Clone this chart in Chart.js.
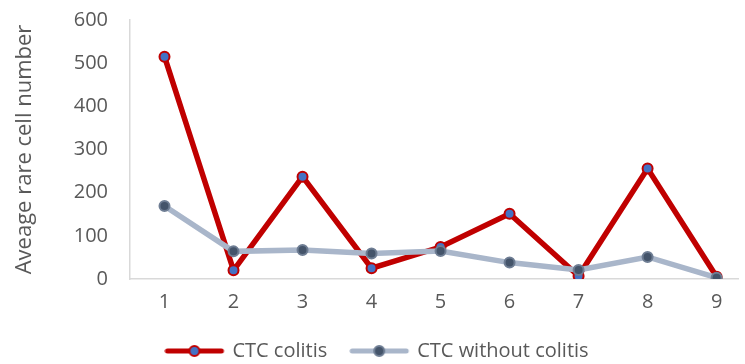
<!DOCTYPE html>
<html>
<head>
<meta charset="utf-8">
<script src="https://cdn.jsdelivr.net/npm/chart.js@4/dist/chart.umd.min.js"></script>
<style>
  html, body { margin: 0; padding: 0; background: #ffffff; overflow: hidden; }
  #wrap { width: 745px; height: 364px; }
</style>
</head>
<body>
<div id="wrap"><canvas id="chart" width="745" height="364"></canvas></div>
<script>
// Sample numbers along the x axis
const categories = [1, 2, 3, 4, 5, 6, 7, 8, 9];

// Average rare cell counts per sample
const colitisValues = [515, 20, 237, 25, 74, 151, 7, 256, 5];
const noColitisValues = [169, 64, 67, 59, 65, 38, 21, 51, 3];

// Y-axis ticks
const yTicks = [0, 100, 200, 300, 400, 500, 600];

const seriesNames = ['CTC colitis', 'CTC without colitis'];
const axisTitle = 'Aveage rare cell number';

const FONT = '"Open Sans", sans-serif';
const TEXT = '#595959';
const AXIS = '#D9D9D9';

const RED = '#C00000';
const BLUE = '#4472C4';
const GREY_LINE = '#A9B6CA';
const GREY_DOT = '#44546A';
const GREY_DOT_EDGE = '#6E7D93';

// Legend swatch: a short line with its marker in the middle
// (drawn slightly wider than its legend box so the label sits close to it)
function legendSwatch(lineColor, fill, edge) {
  const c = document.createElement('canvas');
  c.width = 62; c.height = 14;
  const g = c.getContext('2d');
  g.strokeStyle = lineColor;
  g.lineWidth = 5;
  g.lineCap = 'round';
  g.beginPath(); g.moveTo(3, 7); g.lineTo(57, 7); g.stroke();
  g.beginPath(); g.arc(30, 7, 5, 0, Math.PI * 2);
  g.fillStyle = fill; g.fill();
  g.lineWidth = 2; g.strokeStyle = edge; g.stroke();
  return c;
}
const swatches = [legendSwatch(RED, BLUE, RED), legendSwatch(GREY_LINE, GREY_DOT, GREY_DOT_EDGE)];

const toPoints = vals => categories.map((c, i) => ({ x: c, y: vals[i] }));

new Chart(document.getElementById('chart'), {
  type: 'line',
  data: {
    datasets: [
      {
        label: seriesNames[0],
        data: toPoints(colitisValues),
        borderColor: RED,
        borderWidth: 5.5,
        pointRadius: 5,
        pointBorderWidth: 2,
        pointBackgroundColor: BLUE,
        pointBorderColor: RED,
        tension: 0,
        order: 1
      },
      {
        label: seriesNames[1],
        data: toPoints(noColitisValues),
        borderColor: GREY_LINE,
        borderWidth: 5.5,
        pointRadius: 5,
        pointBorderWidth: 2,
        pointBackgroundColor: GREY_DOT,
        pointBorderColor: GREY_DOT_EDGE,
        tension: 0,
        order: 0
      }
    ]
  },
  options: {
    responsive: false,
    animation: false,
    layout: { padding: { left: 12, right: 0, top: 20, bottom: -7 } },
    scales: {
      x: {
        type: 'linear',
        min: 0.5,
        max: 9.31,
        afterBuildTicks: s => { s.ticks = categories.map(v => ({ value: v })); },
        afterFit: s => { s.height = 36; s.paddingLeft = 0; s.paddingRight = 0; },
        grid: { display: false, drawTicks: false },
        border: { display: true, color: AXIS, width: 1.5 },
        ticks: {
          color: TEXT,
          font: { family: FONT, size: 20 },
          padding: 11,
          maxRotation: 0,
          autoSkip: false
        }
      },
      y: {
        min: 0,
        max: 600,
        afterBuildTicks: s => { s.ticks = yTicks.map(v => ({ value: v })); },
        afterFit: s => { s.width = 118; s.paddingTop = 0; s.paddingBottom = 0; },
        grid: { display: false, drawTicks: false },
        border: { display: true, color: AXIS, width: 1.5 },
        ticks: {
          color: TEXT,
          font: { family: FONT, size: 20 },
          padding: 22
        },
        title: {
          display: true,
          text: axisTitle,
          color: TEXT,
          font: { family: FONT, size: 22 },
          padding: { top: 0, bottom: 0 }
        }
      }
    },
    plugins: {
      tooltip: { enabled: false },
      legend: {
        position: 'bottom',
        labels: {
          color: TEXT,
          font: { family: FONT, size: 20 },
          usePointStyle: true,
          pointStyleWidth: 54,
          padding: 26,
          generateLabels: chart => chart.data.datasets.map((ds, i) => ({
            text: ds.label,
            fontColor: TEXT,
            pointStyle: swatches[i],
            datasetIndex: i,
            hidden: false,
            lineWidth: 0,
            strokeStyle: 'transparent',
            fillStyle: 'transparent'
          }))
        }
      }
    }
  }
});
</script>
</body>
</html>
